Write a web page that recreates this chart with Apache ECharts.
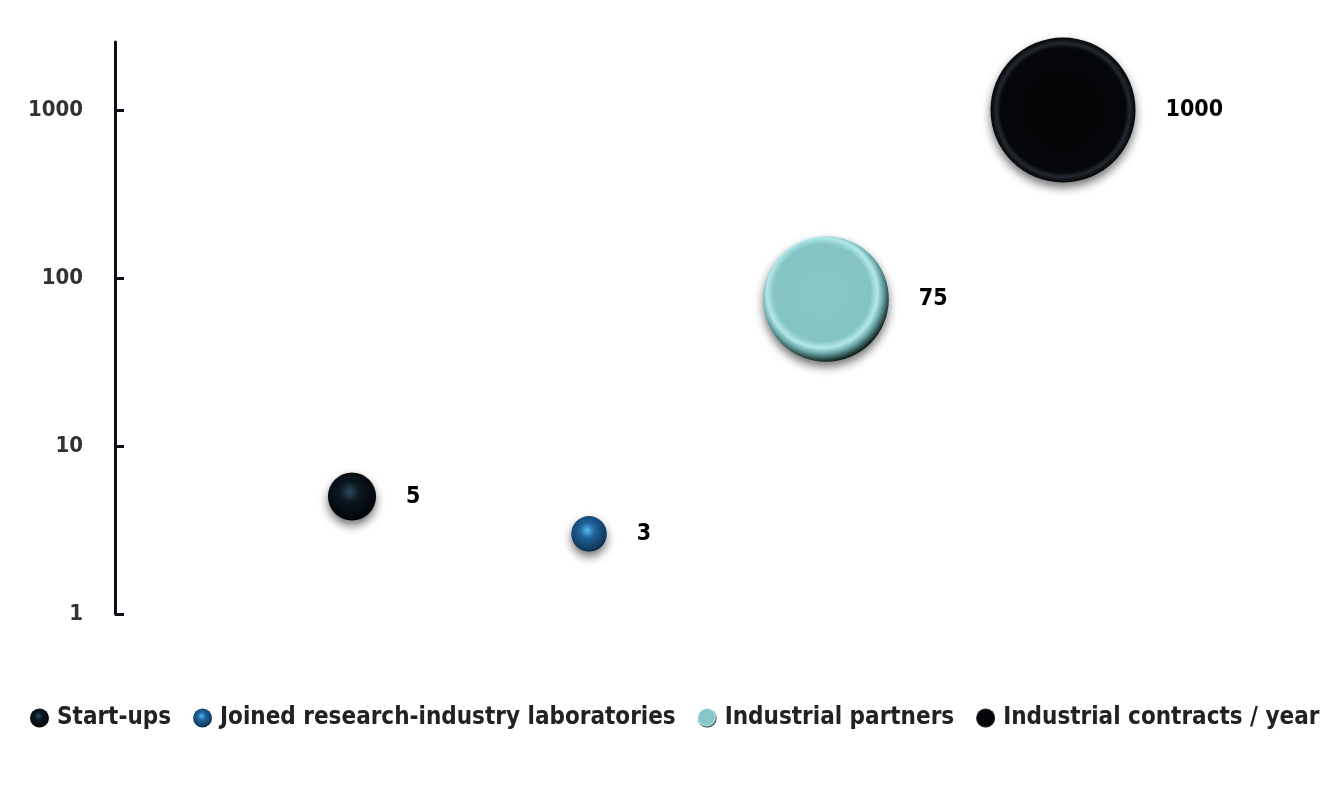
<!DOCTYPE html>
<html>
<head>
<meta charset="utf-8">
<script src="https://cdn.jsdelivr.net/npm/echarts@6/dist/echarts.min.js"></script>
<style>
  html, body { margin: 0; padding: 0; background: #fff; }
</style>
</head>
<body>
<!-- chart container -->
<div id="main" style="width: 1340px; height: 802px"></div>
<script>
// data
var names = ["Start-ups", "Joined research-industry laboratories", "Industrial partners", "Industrial contracts / year"];
var xPos = [1, 2, 3, 4];
var values = [5, 3, 75, 1000];
var bubbleSize = [11, 6, 75, 100];
var yTicks = [1, 10, 100, 1000];

var fontFam = "'DejaVu Sans Condensed', 'DejaVu Sans', sans-serif";

// sphere-like fills
function sphere(c0, c1, c2, c3) {
  return {
    type: "radial", x: 0.45, y: 0.4, r: 0.62,
    colorStops: [
      { offset: 0, color: c0 },
      { offset: 0.35, color: c1 },
      { offset: 0.85, color: c2 },
      { offset: 1, color: c3 }
    ]
  };
}
var fills = [
  sphere("#2a4a5c", "#0b1720", "#04080c", "#010203"),
  sphere("#56b8f0", "#1f629a", "#123c62", "#08203a"),
  {
    type: "radial", x: 0.47, y: 0.45, r: 0.55,
    colorStops: [
      { offset: 0, color: "#88c8c8" },
      { offset: 0.7, color: "#84c4c4" },
      { offset: 0.8, color: "#b4e8e8" },
      { offset: 0.88, color: "#6aa8a8" },
      { offset: 1, color: "#10201f" }
    ]
  },
  {
    type: "radial", x: 0.5, y: 0.5, r: 0.5,
    colorStops: [
      { offset: 0, color: "#030405" },
      { offset: 0.86, color: "#05070a" },
      { offset: 0.92, color: "#23292f" },
      { offset: 1, color: "#020304" }
    ]
  }
];

var series = names.map(function (n, i) {
  return {
    name: n,
    type: "scatter",
    data: [[xPos[i], values[i], bubbleSize[i]]],
    symbolSize: function (d) { return 145 * Math.sqrt(d[2] / 100); },
    itemStyle: {
      color: fills[i],
      opacity: 1,
      shadowBlur: 10,
      shadowOffsetY: 5,
      shadowColor: "rgba(0,0,0,0.55)"
    },
    label: {
      show: true,
      position: "right",
      distance: 30,
      formatter: function (p) { return String(p.value[1]); },
      color: "#000",
      fontWeight: "bold",
      fontSize: 23,
      fontFamily: fontFam
    },
    clip: true
  };
});

var option = {
  animation: false,
  grid: { left: 115, right: 40, top: 42, bottom: 188 },
  xAxis: { type: "value", min: 0, max: 5, show: false },
  yAxis: {
    type: "log",
    logBase: 10,
    min: 1,
    max: 2540,
    axisLine: { show: true, lineStyle: { color: "#0b1016", width: 3 } },
    axisTick: { show: true, inside: true, length: 9, customValues: yTicks, lineStyle: { color: "#0b1016", width: 3 } },
    axisLabel: {
      customValues: yTicks,
      formatter: function (v) { return String(Math.round(v)); },
      color: "#333", fontSize: 22, fontWeight: "bold", fontFamily: fontFam, margin: 32
    },
    splitLine: { show: false }
  },
  legend: {
    bottom: 67,
    left: 25,
    itemWidth: 19,
    itemHeight: 19,
    itemGap: 22,
    icon: "circle",
    textStyle: { color: "#222", fontSize: 24, fontWeight: "bold", fontFamily: fontFam, padding: [0, 0, 0, 3] }
  },
  series: series
};

var myChart = echarts.init(document.getElementById("main"));
myChart.setOption(option);
</script>
</body>
</html>
